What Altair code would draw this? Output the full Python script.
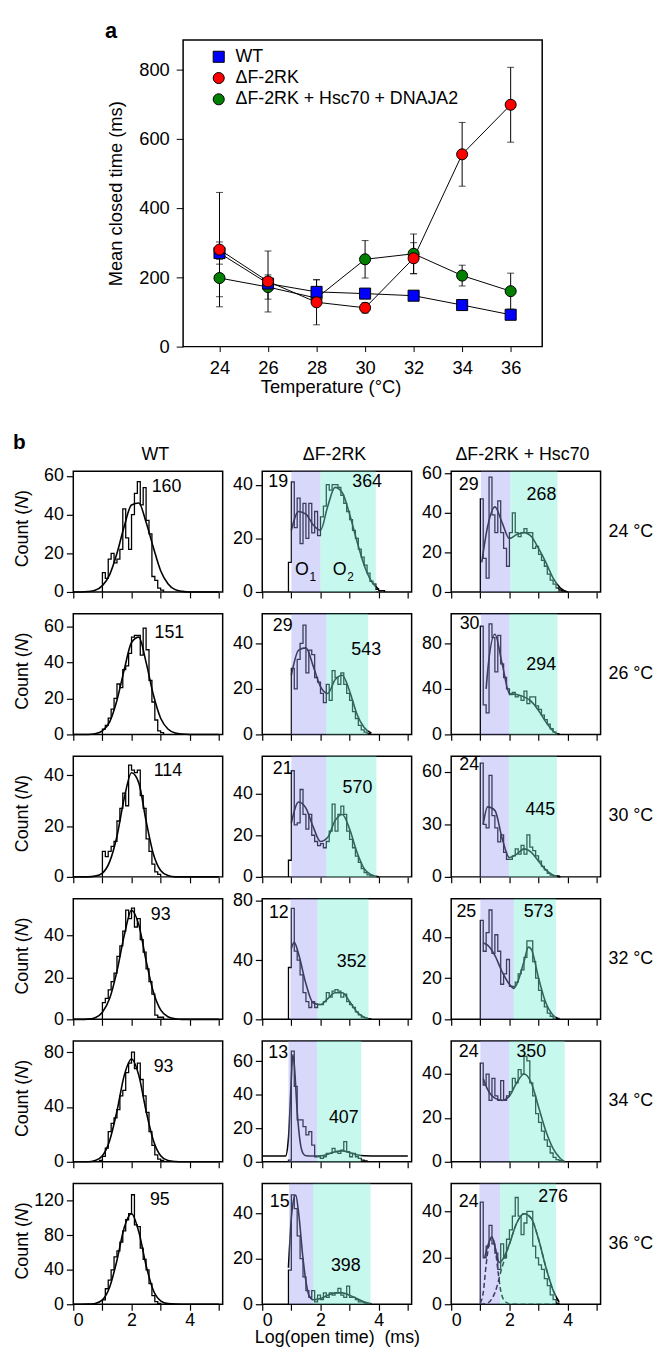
import altair as alt
import pandas as pd

FONT = "Liberation Sans"

# ---------------- panel a ----------------
temperature = [24, 26, 28, 30, 32, 34, 36]
series_names = ["WT", "ΔF-2RK", "ΔF-2RK + Hsc70 + DNAJA2"]
series_colors = ["#0000ff", "#ff0000", "#007f00"]
series_shapes = ["square", "circle", "circle"]
wt_mean = [270, 182, 158, 153, 147, 120, 92]
wt_err = [32, 15, 35, 10, 8, 10, 8]
df2rk_mean = [280, 188, 128, 112, 255, 555, 698]
df2rk_err = [165, 88, 65, 15, 45, 92, 108]
hsc_mean = [198, 172, 140, 252, 268, 205, 160]
hsc_err = [54, 35, 20, 54, 57, 30, 52]

# ---------------- panel b ----------------
row_labels = ["24 °C", "26 °C", "30 °C", "32 °C", "34 °C", "36 °C"]
col_titles = ["WT", "ΔF-2RK", "ΔF-2RK + Hsc70"]
col_title_x = [83, 73, 72]
bin_width = 0.1
x_tick_values = [0, 1, 2, 3, 4, 5]
wt_fit_x = [0, 0.25, 0.5, 0.75, 1.0, 1.25, 1.5, 1.75, 2.0, 2.25, 2.5,
            2.75, 3.0, 3.25, 3.5, 3.75, 4.0, 4.25, 4.5, 4.75, 5.0]

# WT column
wt_starts = [1.0, 1.0, 1.0, 1.0, 0.9, 1.0]
wt24_counts = [10, 7, 17, 20, 15, 17, 22, 43, 28, 22, 40, 51, 57, 45, 54, 37, 30, 8, 6, 2, 1]
wt26_counts = [3, 5, 9, 14, 20, 28, 26, 36, 38, 45, 54, 55, 55, 44, 59, 47, 30, 18, 8, 2, 1]
wt30_counts = [10, 8, 10, 12, 14, 22, 27, 33, 28, 44, 42, 41, 42, 32, 27, 15, 10, 5, 2, 1]
wt32_counts = [8, 10, 14, 18, 22, 30, 35, 42, 52, 48, 53, 44, 48, 38, 32, 24, 18, 12, 2, 1, 1]
wt34_counts = [1, 4, 10, 22, 28, 32, 38, 48, 52, 65, 72, 80, 68, 72, 60, 48, 36, 22, 12, 5, 2, 1]
wt36_counts = [5, 18, 28, 40, 55, 62, 72, 85, 98, 105, 127, 92, 90, 65, 52, 40, 24, 10, 3, 1]
wt24_fit = [0, 0, 0.2, 0.9, 3.3, 9, 20, 34, 45, 46, 36, 23, 11, 4.3, 1.2, 0.3, 0, 0, 0, 0, 0]
wt26_fit = [0, 0, 0, 0.4, 2, 7, 19, 36, 51, 54, 40, 22, 9, 3, 0.8, 0.2, 0, 0, 0, 0, 0]
wt30_fit = [0, 0, 0, 0.3, 1.5, 6, 16, 31, 41, 37, 22, 9, 2.5, 0.5, 0, 0, 0, 0, 0, 0, 0]
wt32_fit = [0, 0, 0.1, 0.8, 3.4, 10, 23, 40, 52, 45, 28, 13, 4.5, 1.2, 0.3, 0, 0, 0, 0, 0, 0]
wt34_fit = [0, 0, 0, 0.9, 4.4, 15.6, 37, 63, 75, 63, 37, 15.6, 4.4, 0.9, 0.2, 0, 0, 0, 0, 0, 0]
wt36_fit = [0, 0, 0.1, 0.9, 5, 20, 51, 89, 105, 84, 45, 16, 4, 0.7, 0.1, 0, 0, 0, 0, 0, 0]
wt_ymax = [62.4, 67, 47.5, 57.5, 88, 140]
wt_yticks = [[0, 20, 40, 60], [0, 20, 40, 60], [0, 20, 40], [0, 20, 40], [0, 40, 80], [0, 40, 80, 120]]
wt_tau = ["160", "151", "114", "93", "93", "95"]
wt_tau_x = [3.2, 3.3, 3.25, 3.0, 3.1, 2.97]
wt_tau_y = [54, 56, 41.5, 49.6, 69, 121]

# ΔF-2RK column
df_starts = [0.9, 1.0, 0.9, 0.9, 0.9, 0.9]
df24_counts = [11, 41, 24, 35, 18, 33, 20, 33, 22, 30, 21, 28, 32, 40, 38, 40, 40, 39, 36, 33,
               30, 27, 23, 20, 16, 13, 10, 7, 4, 3, 1, 0.5, 0.5]
df26_counts = [29, 20, 33, 40, 48, 27, 37, 35, 25, 23, 18, 14, 22, 15, 28, 25, 22, 27, 22, 18,
               15, 10, 7, 4, 2, 1, 0.5]
df30_counts = [8, 51, 25, 26, 42, 30, 23, 30, 20, 17, 15, 16, 14, 17, 22, 35, 22, 30, 34, 30,
               22, 18, 14, 10, 7, 4, 2, 1, 0.5]
df32_counts = [35, 75, 46, 40, 30, 18, 12, 8, 12, 8, 10, 10, 12, 18, 15, 19, 20, 19, 15, 17,
               12, 10, 8, 5, 3, 1.5, 1, 0.5]
df34_counts = [1, 66, 45, 25, 25, 21, 16, 18, 10, 3, 3, 2, 3, 5, 5, 8, 6, 5, 7, 12,
               6, 3, 5, 3, 2, 1, 0.5]
df36_counts = [15, 48, 42, 30, 20, 12, 6, 3, 6, 1, 4, 2, 5, 3, 5, 4, 5, 7, 4, 3,
               8, 3, 3, 2, 1, 1, 0.5]
df24_fit_x = [1.0, 1.25, 1.5, 1.75, 2.0, 2.25, 2.5, 2.75, 3.0, 3.25, 3.5, 3.75, 4.0]
df24_fit_y = [23, 30, 29, 25, 23, 32, 39, 37, 29, 19, 10, 4, 1]
df26_fit_x = [1.0, 1.25, 1.5, 1.75, 2.0, 2.25, 2.5, 2.75, 3.0, 3.25, 3.5, 3.75]
df26_fit_y = [26, 37, 38, 30, 21, 18, 24, 26, 19, 9, 3, 0.5]
df30_fit_x = [1.0, 1.25, 1.5, 1.75, 2.0, 2.25, 2.5, 2.75, 3.0, 3.25, 3.5, 3.75, 4.0]
df30_fit_y = [26, 36, 33, 24, 17, 19, 27, 30, 23, 12, 4, 1, 0]
df32_fit_x = [1.0, 1.1, 1.25, 1.5, 1.75, 2.0, 2.25, 2.5, 2.75, 3.0, 3.25, 3.5, 3.75]
df32_fit_y = [48, 52, 44, 24, 11, 10, 14, 18, 18, 12, 5, 1.5, 0]
df34_fit_x = [0, 0.5, 0.8, 0.9, 1.0, 1.05, 1.1, 1.2, 1.3, 1.4, 1.5, 1.75, 2.0, 2.25, 2.5,
              2.75, 3.0, 3.25, 3.5, 4.0, 4.5, 5.0]
df34_fit_y = [3.5, 3.5, 3.5, 14, 50, 64, 58, 30, 12, 5, 3.6, 3.5, 3.6, 4.5, 6,
              6.5, 5.5, 4.2, 3.6, 3.5, 3.5, 3.5]
df36_fit_x = [0.9, 1.0, 1.1, 1.15, 1.25, 1.4, 1.5, 1.6, 1.75, 2.0, 2.25, 2.5, 2.75, 3.0, 3.25, 3.5, 3.75]
df36_fit_y = [16, 38, 47, 48, 40, 20, 10, 4, 2, 2.5, 4, 5, 5, 4, 2.5, 1, 0.2]
df_ymax = [45, 53, 58, 81.5, 72, 53]
df_yticks = [[0, 20, 40], [0, 20, 40], [0, 20, 40], [0, 40, 80], [0, 20, 40, 60], [0, 20, 40]]
df_tau1 = ["19", "29", "21", "12", "13", "15"]
df_tau1_x = [0.55, 0.7, 0.7, 0.57, 0.55, 0.6]
df_tau1_y = [41, 47.5, 52, 71.7, 65, 44.7]
df_tau2 = ["364", "543", "570", "352", "407", "398"]
df_tau2_x = [3.6, 3.57, 3.27, 3.07, 2.8, 2.87]
df_tau2_y = [41, 37, 42.7, 38.8, 26, 16.7]
df_o1_lo = [1.0, 1.0, 1.0, 0.97, 0.9, 0.92]
df_o1_hi = [2.0, 2.2, 2.2, 1.9, 1.88, 1.75]
df_o2_hi = [3.9, 3.64, 3.92, 3.65, 3.4, 3.72]

# ΔF-2RK + Hsc70 column
hsc_starts = [1.0, 1.0, 1.0, 1.0, 1.0, 1.0]
hsc24_counts = [47, 17, 7, 58, 39, 30, 46, 30, 22, 13, 30, 40, 30, 28, 30, 32, 30, 30, 22, 23,
                19, 16, 13, 9, 6, 4, 2, 1, 0.5]
hsc26_counts = [95, 26, 19, 97, 85, 55, 87, 62, 50, 40, 35, 37, 33, 34, 30, 38, 27, 33, 33, 25,
                22, 17, 13, 9, 5, 2, 0.5]
hsc30_counts = [65, 30, 28, 58, 35, 28, 20, 24, 14, 10, 10, 12, 16, 13, 18, 13, 24, 17, 15, 12,
                9, 6, 4, 2, 1, 0.5, 0.5]
hsc32_counts = [48, 33, 42, 53, 32, 41, 33, 17, 22, 29, 16, 16, 18, 22, 24, 30, 38, 38, 28, 20,
                14, 9, 6, 3, 1.5, 0.5, 0.5]
hsc34_counts = [45, 35, 40, 28, 38, 30, 28, 37, 28, 30, 32, 38, 36, 42, 40, 48, 46, 36, 30, 22,
                18, 14, 10, 7, 4, 2, 1, 0.5]
hsc36_counts = [44, 20, 25, 34, 26, 22, 15, 26, 20, 28, 32, 38, 46, 38, 30, 35, 40, 40, 25, 20,
                17, 15, 11, 8, 4, 2, 0.5]
hsc24_fit_x = [1.05, 1.25, 1.5, 1.75, 2.0, 2.25, 2.5, 2.75, 3.0, 3.25, 3.5, 3.75, 4.0]
hsc24_fit_y = [15, 33, 43, 35, 27, 29, 30, 28, 22, 15, 7, 2, 0]
hsc26_fit_x = [1.2, 1.25, 1.5, 1.75, 2.0, 2.25, 2.5, 2.75, 3.0, 3.25, 3.5, 3.7]
hsc26_fit_y = [40, 55, 88, 62, 36, 35, 33, 29, 21, 11, 3, 0]
hsc30_fit_x = [1.1, 1.25, 1.5, 1.75, 2.0, 2.25, 2.5, 2.75, 3.0, 3.25, 3.5, 3.75]
hsc30_fit_y = [30, 40, 38, 22, 11, 13, 16, 14, 9, 4, 1, 0]
hsc32_fit_x = [1.1, 1.25, 1.5, 1.75, 2.0, 2.15, 2.25, 2.5, 2.65, 2.75, 3.0, 3.25, 3.5, 3.65]
hsc32_fit_y = [37, 36, 31, 23, 17, 15, 17, 28, 35, 34, 20, 8, 2, 0.5]
hsc34_fit_x = [1.1, 1.25, 1.5, 1.75, 2.0, 2.25, 2.5, 2.75, 3.0, 3.25, 3.5, 3.75, 3.9]
hsc34_fit_y = [38, 33, 29, 28, 30, 36, 40, 36, 25, 14, 6, 1.5, 0]
hsc36_fit_x = [1.15, 1.25, 1.4, 1.5, 1.65, 1.75, 2.0, 2.25, 2.5, 2.75, 3.0, 3.25, 3.5, 3.7]
hsc36_fit_y = [20, 25, 29, 25, 18, 19, 26, 35, 39, 37, 28, 16, 6, 1]
hsc36_comp1_x = [1.0, 1.1, 1.2, 1.3, 1.4, 1.5, 1.6, 1.7, 1.8, 2.0, 2.5, 3.0, 3.7]
hsc36_comp1_y = [0.5, 5, 17, 26, 29, 25, 15, 6, 2, 0.2, 0, 0, 0]
hsc36_comp2_x = [1.0, 1.25, 1.5, 1.75, 2.0, 2.25, 2.5, 2.75, 3.0, 3.25, 3.5, 3.7]
hsc36_comp2_y = [0, 0.5, 5, 16, 26, 35, 39, 37, 28, 16, 6, 1]
hsc_ymax = [61, 106, 69, 58.5, 55, 52]
hsc_yticks = [[0, 20, 40, 60], [0, 40, 80], [0, 30, 60], [0, 20, 40], [0, 20, 40], [0, 20, 40]]
hsc_tau1 = ["29", "30", "24", "25", "24", "24"]
hsc_tau1_x = [0.6, 0.63, 0.62, 0.52, 0.6, 0.6]
hsc_tau1_y = [54, 97, 63.8, 52, 50, 44]
hsc_tau2 = ["268", "294", "445", "573", "350", "276"]
hsc_tau2_x = [3.1, 3.09, 3.06, 3.0, 2.75, 3.5]
hsc_tau2_y = [49, 60.7, 38, 52, 50, 46.3]
hsc_o1_lo = [1.02, 1.02, 1.0, 1.0, 1.0, 0.97]
hsc_o1_hi = [2.03, 2.0, 1.98, 2.15, 2.0, 1.68]
hsc_o2_hi = [3.65, 3.65, 3.63, 3.6, 3.9, 3.6]

o_label_x = [1.6, 2.9]
o_label_y = [8, 8]
o_sub = ["1", "2"]

O1_COLOR, O1_OP = "#9a9af4", 0.39
O2_COLOR, O2_OP = "#77eed6", 0.42

PW, PH = 151, 122
FS = 18


def hist_table(start, counts):
    xs, ys = [start], [0]
    for i, cnt in enumerate(counts):
        xs.append(round(start + i * bin_width, 4))
        ys.append(cnt)
    xs.append(round(start + len(counts) * bin_width, 4))
    ys.append(0)
    return pd.DataFrame({"x": xs, "y": ys, "i": list(range(len(xs)))})


one_row = pd.DataFrame({"k": [0]})


def text_at(txt, px, py, size=FS, align="left", baseline="middle", **kw):
    return alt.Chart(one_row).mark_text(
        text=txt, fontSize=size, align=align, baseline=baseline, color="black", font=FONT, **kw
    ).encode(x=alt.value(px), y=alt.value(py))


def panel(r, c, start, counts, fit_x, fit_y, ymax, yticks, texts,
          o1=None, o2hi=None, dashed=None):
    xscale = alt.Scale(domain=[0, 5.13], nice=False, zero=False)
    yscale = alt.Scale(domain=[0, ymax], nice=False)
    xk = dict(values=x_tick_values, grid=False, domain=False, tickSize=6, tickWidth=1.2,
              labelFontSize=FS, labelPadding=1)
    if r == 5:
        xk["labelExpr"] = "datum.value % 2 === 0 ? datum.label : ''"
    else:
        xk["labels"] = False
    if r == 5 and c == 1:
        xk.update(title="Log(open time)\u00a0\u00a0(ms)", titleFontSize=FS,
                  titleFontWeight="normal", titleY=34, titleBaseline="middle")
    else:
        xk["title"] = None
    X = alt.X("x:Q", scale=xscale, axis=alt.Axis(**xk))
    Y = alt.Y("y:Q", scale=yscale,
              axis=alt.Axis(values=yticks, title=None, grid=False, domain=False, tickSize=7,
                            tickWidth=1.2, labelFontSize=FS, labelPadding=3))
    layers = [
        alt.Chart(hist_table(start, counts)).mark_line(
            interpolate="step-after", color="black", strokeWidth=1.3
        ).encode(x=X, y=Y, order="i:Q"),
        alt.Chart(pd.DataFrame({"x": fit_x, "y": fit_y})).mark_line(
            interpolate="monotone", color="black", strokeWidth=1.6
        ).encode(x=X, y=Y),
    ]
    if dashed is not None:
        for dx, dy in dashed:
            layers.append(
                alt.Chart(pd.DataFrame({"x": dx, "y": dy})).mark_line(
                    interpolate="monotone", color="black", strokeWidth=1.5, strokeDash=[5, 3]
                ).encode(x=X, y=Y)
            )
    if o1 is not None:
        layers.append(
            alt.Chart(pd.DataFrame({"x": [o1[0]], "x2": [o1[1]], "y": [0], "y2": [ymax]}))
            .mark_rect(color=O1_COLOR, opacity=O1_OP)
            .encode(x=X, x2="x2:Q", y=Y, y2="y2:Q")
        )
        layers.append(
            alt.Chart(pd.DataFrame({"x": [o1[1]], "x2": [o2hi], "y": [0], "y2": [ymax]}))
            .mark_rect(color=O2_COLOR, opacity=O2_OP)
            .encode(x=X, x2="x2:Q", y=Y, y2="y2:Q")
        )
    layers.append(
        alt.Chart(pd.DataFrame(texts)).mark_text(
            fontSize=FS, align="center", baseline="middle", color="black", font=FONT
        ).encode(x=X, y=Y, text="t:N")
    )
    if r == 0 and c == 1:
        layers.append(
            alt.Chart(pd.DataFrame({"x": o_label_x, "y": o_label_y, "t": ["O", "O"]}))
            .mark_text(fontSize=FS, align="right", baseline="middle", color="black", font=FONT)
            .encode(x=X, y=Y, text="t:N")
        )
        layers.append(
            alt.Chart(pd.DataFrame({"x": [v + 0.02 for v in o_label_x],
                                    "y": [v - 2.5 for v in o_label_y], "t": o_sub}))
            .mark_text(fontSize=12, align="left", baseline="middle", color="black", font=FONT)
            .encode(x=X, y=Y, text="t:N")
        )
    if c == 0:
        layers.append(text_at("Count (", -51, 97, angle=270))
        layers.append(text_at("N", -51, 38, angle=270, fontStyle="italic"))
        layers.append(text_at(")", -51, 25, angle=270))
    if c == 2:
        layers.append(text_at(row_labels[r], 159, 61))
    if r == 0:
        layers.append(text_at(col_titles[c], col_title_x[c], -11, align="center",
                              baseline="alphabetic"))
    if r == 0 and c == 0:
        layers.append(text_at("b", -61, -23, size=21, baseline="alphabetic", fontWeight="bold"))
        layers.append(
            alt.Chart(one_row).mark_rule(opacity=0).encode(
                x=alt.value(-63), y=alt.value(-46), y2=alt.value(-45))
        )
    return alt.layer(*layers).properties(width=PW, height=PH)


wt_counts = [wt24_counts, wt26_counts, wt30_counts, wt32_counts, wt34_counts, wt36_counts]
wt_fits = [wt24_fit, wt26_fit, wt30_fit, wt32_fit, wt34_fit, wt36_fit]
df_counts = [df24_counts, df26_counts, df30_counts, df32_counts, df34_counts, df36_counts]
df_fx = [df24_fit_x, df26_fit_x, df30_fit_x, df32_fit_x, df34_fit_x, df36_fit_x]
df_fy = [df24_fit_y, df26_fit_y, df30_fit_y, df32_fit_y, df34_fit_y, df36_fit_y]
hsc_counts = [hsc24_counts, hsc26_counts, hsc30_counts, hsc32_counts, hsc34_counts, hsc36_counts]
hsc_fx = [hsc24_fit_x, hsc26_fit_x, hsc30_fit_x, hsc32_fit_x, hsc34_fit_x, hsc36_fit_x]
hsc_fy = [hsc24_fit_y, hsc26_fit_y, hsc30_fit_y, hsc32_fit_y, hsc34_fit_y, hsc36_fit_y]

panels = []
for r in range(6):
    panels.append(panel(
        r, 0, wt_starts[r], wt_counts[r], wt_fit_x, wt_fits[r], wt_ymax[r], wt_yticks[r],
        {"x": [wt_tau_x[r]], "y": [wt_tau_y[r]], "t": [wt_tau[r]]}))
    panels.append(panel(
        r, 1, df_starts[r], df_counts[r], df_fx[r], df_fy[r], df_ymax[r], df_yticks[r],
        {"x": [df_tau1_x[r], df_tau2_x[r]], "y": [df_tau1_y[r], df_tau2_y[r]],
         "t": [df_tau1[r], df_tau2[r]]},
        o1=(df_o1_lo[r], df_o1_hi[r]), o2hi=df_o2_hi[r]))
    panels.append(panel(
        r, 2, hsc_starts[r], hsc_counts[r], hsc_fx[r], hsc_fy[r], hsc_ymax[r], hsc_yticks[r],
        {"x": [hsc_tau1_x[r], hsc_tau2_x[r]], "y": [hsc_tau1_y[r], hsc_tau2_y[r]],
         "t": [hsc_tau1[r], hsc_tau2[r]]},
        o1=(hsc_o1_lo[r], hsc_o1_hi[r]), o2hi=hsc_o2_hi[r],
        dashed=[(hsc36_comp1_x, hsc36_comp1_y), (hsc36_comp2_x, hsc36_comp2_y)] if r == 5 else None))

grid = alt.concat(*panels, columns=3, spacing={"row": 22, "column": 40}, bounds="flush")

# ---------------- panel a chart ----------------
rows = []
for name, m, e in [(series_names[2], hsc_mean, hsc_err),
                   (series_names[0], wt_mean, wt_err),
                   (series_names[1], df2rk_mean, df2rk_err)]:
    for t, mm, ee in zip(temperature, m, e):
        rows.append({"series": name, "temp": t, "mean": mm, "lo": mm - ee, "hi": mm + ee})
dfa = pd.DataFrame(rows)

AFS = 18.5
xa = alt.X("temp:Q", scale=alt.Scale(domain=[22.5, 37.3], nice=False, zero=False),
           axis=alt.Axis(values=temperature, title="Temperature (°C)", grid=False, domain=False,
                         tickSize=5, labelFontSize=AFS, labelPadding=7, titleFontSize=AFS,
                         titleFontWeight="normal", titleX=149, titleY=40,
                         titleBaseline="middle"))
ya_axis = alt.Axis(values=[0, 200, 400, 600, 800], title="Mean closed time (ms)", grid=False,
                   domain=False, tickSize=7, labelPadding=7, labelFontSize=AFS,
                   titleFontSize=AFS, titleFontWeight="normal", titleX=-68, titleY=155,
                   titleAngle=270, titleBaseline="middle")
ya_scale = alt.Scale(domain=[0, 885], nice=False)
ya = alt.Y("mean:Q", scale=ya_scale, axis=ya_axis)
ya_lo = alt.Y("lo:Q", scale=ya_scale, axis=ya_axis)
ya_hi = alt.Y("hi:Q", scale=ya_scale, axis=ya_axis)

# legend is positioned relative to the top row group (spacer origin); the plot starts 109 px right
leg = alt.Legend(title=None, orient="none", legendX=138, legendY=8, labelFontSize=18,
                 labelFont=FONT, labelColor="black", labelLimit=400, symbolSize=125,
                 symbolStrokeColor="black", symbolStrokeWidth=1, rowPadding=3.5,
                 labelOffset=8, padding=0)

base = alt.Chart(dfa)
err = base.mark_rule(color="black", strokeWidth=1).encode(x=xa, y=ya_lo, y2="hi:Q")
cap_lo = base.mark_tick(orient="horizontal", size=7, thickness=1, color="black").encode(x=xa, y=ya_lo)
cap_hi = base.mark_tick(orient="horizontal", size=7, thickness=1, color="black").encode(x=xa, y=ya_hi)
lines = base.mark_line(color="black", strokeWidth=1).encode(x=xa, y=ya, detail="series:N")
pts = base.mark_point(filled=True, size=125, opacity=1, stroke="black", strokeWidth=1).encode(
    x=xa, y=ya,
    color=alt.Color("series:N", scale=alt.Scale(domain=series_names, range=series_colors), legend=leg),
    shape=alt.Shape("series:N", scale=alt.Scale(domain=series_names, range=series_shapes), legend=leg),
)
a_label = text_at("a", -79, -2, size=22, baseline="alphabetic", fontWeight="bold")
a_bound = alt.Chart(one_row).mark_rule(opacity=0).encode(
    x=alt.value(0), y=alt.value(-17), y2=alt.value(370))

panel_a = alt.layer(err, cap_lo, cap_hi, lines, pts, a_label, a_bound).properties(width=363, height=310)

spacer = alt.Chart(one_row).mark_point(opacity=0).encode(
    x=alt.value(0), y=alt.value(0)
).properties(width=20, height=310, view=alt.ViewBackground(stroke="transparent"))

top_row = alt.hconcat(spacer, panel_a, spacing=10)

chart = (
    alt.vconcat(top_row, grid, spacing=18)
    .properties(padding={"left": 2, "top": 4, "right": 0, "bottom": 0})
    .configure(font=FONT)
    .configure_view(stroke="black", strokeWidth=1.5)
    .configure_axis(labelColor="black", tickColor="black", titleColor="black",
                    labelFont=FONT, titleFont=FONT)
    .configure_text(font=FONT, color="black")
)

chart.save("out.html", embed_options={"renderer": "svg", "actions": False})
